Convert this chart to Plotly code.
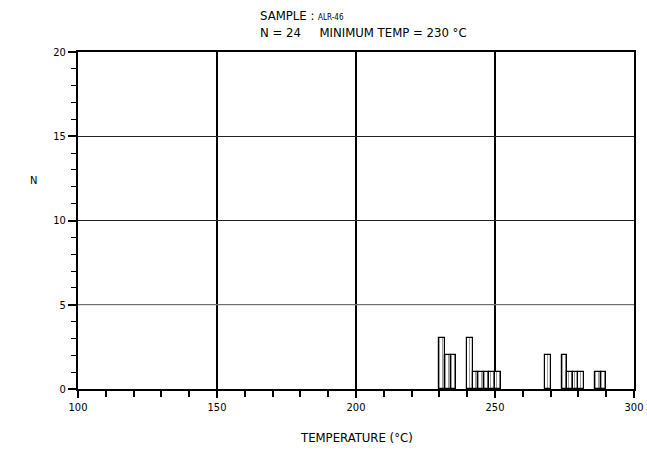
import plotly.graph_objects as go

# Histogram of homogenisation temperatures, 2 degree bins (left edges)
bin_left = [230, 232, 234, 240, 242, 244, 246, 248, 250,
            268, 274, 276, 278, 280, 286, 288]
counts = [3, 2, 2, 3, 1, 1, 1, 1, 1,
          2, 2, 1, 1, 1, 1, 1]
bin_width = 2

x_ticks = [100, 150, 200, 250, 300]
y_ticks = [0, 5, 10, 15, 20]

sample = "ALR-46"
n_total = sum(counts)
min_temp = min(bin_left)

FONT = "DejaVu Sans Condensed, Liberation Sans Narrow, Arial Narrow, sans-serif"

fig = go.Figure()
fig.add_trace(go.Bar(
    x=[b + bin_width / 2 for b in bin_left],
    y=counts,
    width=bin_width,
    marker=dict(
        color="white",
        line=dict(color="black", width=1.2),
        pattern=dict(shape="|", fgcolor="black", bgcolor="white", size=3, solidity=0.25),
    ),
    showlegend=False,
))

fig.update_layout(
    width=647, height=454,
    margin=dict(l=78, r=13, t=52, b=65, autoexpand=False),
    paper_bgcolor="white", plot_bgcolor="white",
    font=dict(family=FONT, color="black", size=11),
    bargap=0,
)

fig.update_xaxes(
    range=[100, 300], tickvals=x_ticks, automargin=False,
    showgrid=True, gridcolor="black", gridwidth=2,
    showline=True, linecolor="black", linewidth=2, mirror=True,
    ticks="outside", ticklen=7, tickwidth=2, tickcolor="black",
    minor=dict(dtick=10, tick0=100, ticks="outside", ticklen=6, tickwidth=1.5,
               tickcolor="black", showgrid=False),
    zeroline=False, tickfont=dict(size=11),
)
fig.update_yaxes(
    range=[0, 20], tickvals=y_ticks, automargin=False,
    showgrid=True, gridcolor="#222", gridwidth=1.2,
    showline=True, linecolor="black", linewidth=2, mirror=True,
    ticks="outside", ticklen=8, tickwidth=1.5, tickcolor="black",
    minor=dict(dtick=1, ticks="outside", ticklen=5, tickwidth=1.2,
               tickcolor="black", showgrid=False),
    zeroline=False, tickfont=dict(size=11),
)

# the lowest gridline is printed lighter than the others
fig.add_hline(y=y_ticks[1], line=dict(color="#8a8a8a", width=1.2))

annotations = [
    dict(text=f"SAMPLE : <span style='font-size:8px'>{sample}</span>",
         x=(258 - 78) / 556, y=(389 - 15) / 337, xanchor="left", yanchor="middle",
         font=dict(size=13)),
    dict(text=f"N = {n_total}&nbsp;&nbsp;&nbsp;&nbsp;&nbsp;MINIMUM TEMP = {min_temp} \u00b0C",
         x=(258 - 78) / 556, y=(389 - 33) / 337, xanchor="left", yanchor="middle",
         font=dict(size=13)),
    dict(text="N", x=(33 - 78) / 556, y=(389 - 180) / 337,
         xanchor="center", yanchor="middle", font=dict(size=11)),
    dict(text="TEMPERATURE (\u00b0C)", x=(356 - 78) / 556, y=(389 - 437) / 337,
         xanchor="center", yanchor="middle", font=dict(size=13)),
]
for a in annotations:
    a.update(xref="paper", yref="paper", showarrow=False)
fig.update_layout(annotations=annotations)

fig.write_html("out.html")
